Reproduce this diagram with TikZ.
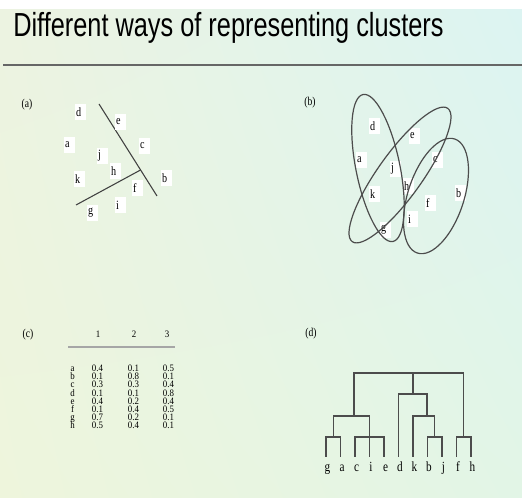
\documentclass[tikz,border=0pt]{standalone}
\usepackage{fontspec}
\setmainfont{Liberation Serif}
\newfontfamily\narrowserif[FakeStretch=0.8]{Liberation Serif}
\newfontfamily\cellfont[FakeStretch=0.9]{Liberation Serif}
\newfontfamily\titlefont[FakeStretch=0.76]{Liberation Sans}
\usepackage{tikz}
\usetikzlibrary{calc,shadings}

\definecolor{bgul}{HTML}{ECF3E1}
\definecolor{bgur}{HTML}{DCF4F2}
\definecolor{bgll}{HTML}{EEF5DC}
\definecolor{bglr}{HTML}{E2F5E6}

\begin{document}
\begin{tikzpicture}[x=0.75pt,y=-0.75pt,
  pt/.style={anchor=west,fill=white,inner xsep=1pt,inner ysep=0pt,text width=6.5pt,minimum height=12pt,align=left,font=\narrowserif\fontsize{9.5}{10}\selectfont},
  tag/.style={font=\narrowserif\fontsize{9}{10}\selectfont,inner sep=0pt},
  cell/.style={anchor=base,inner sep=0pt,font=\cellfont\fontsize{7.4}{8}\selectfont},
  leaf/.style={anchor=base,inner sep=0pt,font=\narrowserif\fontsize{10.5}{11}\selectfont},
  cut/.style={draw=black!75,line width=0.8pt},
  ring/.style={draw=black!70,line width=0.9pt},
  tree/.style={draw=black!70,line width=0.8pt}]
\useasboundingbox (0,0) rectangle (522,498);
\fill[white] (0,0) rectangle (522,498);
\shade[upper left=bgul,upper right=bgur,lower left=bgll,lower right=bglr] (0,10) rectangle (522,498);

% title
\node[anchor=base west,inner sep=0pt,font=\titlefont\fontsize{25}{30}\selectfont] (title) at (13,37) {Different ways of representing clusters};
\draw[gray!80!black,line width=1.4pt] (3,65) -- (522,65);

% (a) partition by lines
\node[tag] (tagA) at (27,105) {(a)};
\coordinate (cutA1) at (99,104);
\coordinate (cutA2) at (157,196);
\coordinate (cutB) at (76,205);
\draw[cut] (cutA1) -- (cutA2);
\draw[cut] (cutB) -- ($(cutA1)!0.717!(cutA2)$);
\foreach \n/\x/\y in {d/78/112,e/118/122,a/67/145,c/142/146,j/100/156,h/113/171,k/77/179,b/164/178,f/135/188,i/118/205,g/90/213}
  \node[pt] (a\n) at ({\x-3.5},\y) {\n};

% (b) overlapping clusters
\node[tag] (tagB) at (310,103) {(b)};
\foreach \n/\x/\y in {d/372/126,e/412/136,a/359/160,c/435/160,j/393/169,h/406/186,k/372/194,b/458/193,f/428/203,i/410/219,g/383/230}
  \node[pt] (b\n) at ({\x-3.5},\y) {\n};
\draw[ring,rotate around={101.5:(378,168)}] (378,168) ellipse [x radius=75,y radius=22];
\draw[ring,rotate around={54.4:(400,175)}] (400,175) ellipse [x radius=82,y radius=22];
\draw[ring,rotate around={71.9:(436,196)}] (436,196) ellipse [x radius=60,y radius=28];

% (c) membership table
\node[tag] (tagC) at (28,335) {(c)};
\foreach \c/\x in {1/98,2/134,3/167}
  \node[cell] (hd\c) at (\x,338) {\c};
\draw[gray!70,line width=1.5pt] (68,347.5) -- (175,347.5);
\foreach \r/\u/\v/\w [count=\i from 0] in {a/0.4/0.1/0.5,b/0.1/0.8/0.1,c/0.3/0.3/0.4,d/0.1/0.1/0.8,e/0.4/0.2/0.4,f/0.1/0.4/0.5,g/0.7/0.2/0.1,h/0.5/0.4/0.1}{
  \node[cell] (r\r) at (72.5,{371.5+8.2*\i}) {\r};
  \node[cell] (u\r) at (97.5,{371.5+8.2*\i}) {\u};
  \node[cell] (v\r) at (133.5,{371.5+8.2*\i}) {\v};
  \node[cell] (w\r) at (168.5,{371.5+8.2*\i}) {\w};
}

% (d) dendrogram
\node[tag] (tagD) at (311,334) {(d)};
\foreach \n [count=\i from 0] in {g,a,c,i,e,d,k,b,j,f,h}{
  \node[leaf] (l\n) at ({327.5+14.5*\i},472) {\n};
  \coordinate (t\n) at ({326+14.5*\i},457);
}
\coordinate (mga) at (333.25,437);
\coordinate (mce) at (369.5,437);
\coordinate (mL) at (354,416);
\coordinate (mbj) at (434.75,437);
\coordinate (mk) at (427,416);
\coordinate (md) at (413,394);
\coordinate (mfh) at (463.75,437);
\coordinate (mtop) at (413,373);
\draw[tree] (tg) |- (mga) -| (ta);
\draw[tree] (tc) |- (mce) -| (te);
\draw[tree] (mga) |- (mL) -| (ti);
\draw[tree] (tb) |- (mbj) -| (tj);
\draw[tree] (mbj) |- (mk) -| (tk);
\draw[tree] (mk) |- (md) -| (td);
\draw[tree] (tf) |- (mfh) -| (th);
\draw[tree] (mL) |- (mtop) -| (mfh);
\draw[tree] (md) -- (mtop);
\end{tikzpicture}
\end{document}
